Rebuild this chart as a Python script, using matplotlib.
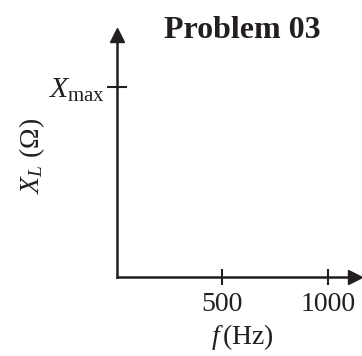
import matplotlib
matplotlib.use("Agg")
import matplotlib.pyplot as plt

# Data
x_ticks = [500, 1000]
x_tick_labels = ["500", "1000"]
y_ticks = [1.0]
y_tick_labels = [r"$X_{\mathrm{max}}$"]
title = "Problem 03"
xlabel = r"$f\,$(Hz)"
ylabel = r"$X_L$ (Ω)"

plt.rcParams['font.family'] = ['Liberation Serif', 'DejaVu Serif']
plt.rcParams['mathtext.fontset'] = 'custom'
plt.rcParams['mathtext.rm'] = 'Liberation Serif'
plt.rcParams['mathtext.it'] = 'Liberation Serif:italic'
plt.rcParams['mathtext.bf'] = 'Liberation Serif:bold'

col = '#231f20'
fig = plt.figure(figsize=(3.62, 3.56), dpi=100)
ax = fig.add_axes([117/362, (356-277)/356, (355-117)/362, (277-35)/356])
ax.set_xlim(0, 1128)
ax.set_ylim(0, 1.274)
ax.set_facecolor('none')

for s in ['top', 'right']:
    ax.spines[s].set_visible(False)
for s in ['left', 'bottom']:
    ax.spines[s].set_linewidth(1.8)
    ax.spines[s].set_color(col)

# arrows
ax.plot(1, 0, marker='>', color=col, markersize=9.5, transform=ax.transAxes, clip_on=False)
ax.plot(0, 1, marker='^', color=col, markersize=9.5, transform=ax.transAxes, clip_on=False)

ax.set_xticks(x_ticks)
ax.set_xticklabels(x_tick_labels, fontsize=20, color=col)
ax.set_yticks(y_ticks)
ax.set_yticklabels(y_tick_labels, fontsize=21.5, color=col)
ax.tick_params(axis='x', direction='inout', length=12, width=1.5, color=col, pad=5)
ax.tick_params(axis='y', direction='inout', length=14, width=1.5, color=col, pad=2)

ax.set_xlabel(xlabel, fontsize=20, color=col)
ax.xaxis.set_label_coords((242-117)/238, (277-337)/242, transform=ax.transAxes)
ax.xaxis.label.set_va('center')
ax.set_ylabel(ylabel, fontsize=20, color=col)
ax.yaxis.set_label_coords((32-117)/238, (277-156)/242, transform=ax.transAxes)
ax.yaxis.label.set_va('center')

fig.text(242/362, 1-31/356, title, fontsize=23, fontweight='bold', color=col,
         ha='center', va='center')

fig.savefig('out.png', dpi=100)
